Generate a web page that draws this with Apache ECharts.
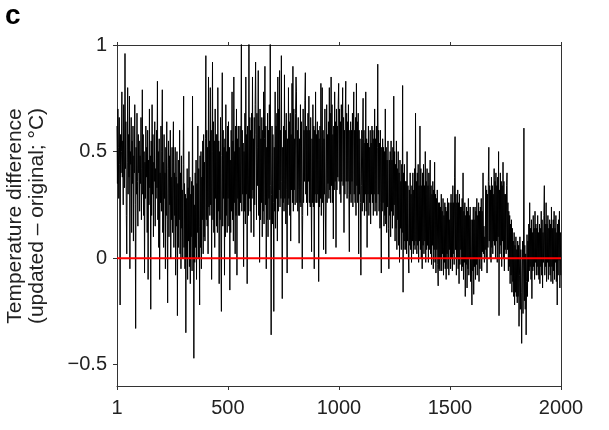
<!DOCTYPE html>
<html>
<head>
<meta charset="utf-8">
<script src="https://cdn.jsdelivr.net/npm/echarts@6/dist/echarts.min.js"></script>
<style>
html,body{margin:0;padding:0;background:#fff;}
#chart{width:609px;height:430px;}
</style>
</head>
<body>
<div id="chart"></div>
<script>
// Sampling grid of the hand-read series: one value every 2 years starting at year 1
const firstYear = 1;
const yearStep = 2;
// Temperature difference (updated - original; °C), 25 values per 50 years
const tempDiff = [
  0.62,0.35,0.70,0.52,0.28,0.66,0.44,-0.22,0.58,0.40,0.50,0.78,0.38,0.55,0.25,0.72,0.48,0.33,0.96,0.42,0.64,0.20,0.02,0.45,0.80,
  0.30,0.58,0.38,0.76,-0.05,0.50,0.44,0.66,0.12,0.55,0.35,0.62,0.08,0.48,0.40,0.72,0.25,-0.33,0.52,0.30,0.68,0.36,0.15,0.58,0.40,
  0.55,0.22,0.48,0.35,0.66,0.18,0.42,0.79,0.30,0.58,0.20,0.50,-0.07,0.45,0.28,0.62,0.38,0.52,0.12,0.60,-0.10,0.46,0.25,0.70,0.33,
  0.48,-0.24,0.55,0.20,0.72,0.30,0.58,0.10,0.45,0.36,0.64,0.15,0.42,0.28,0.60,0.33,0.83,0.18,0.50,0.05,0.56,-0.10,0.40,0.26,0.62,
  0.22,0.50,0.79,0.12,0.45,0.05,0.58,0.28,0.40,-0.05,0.52,0.20,0.64,0.18,-0.21,0.42,0.55,0.10,0.48,0.25,0.60,0.00,0.38,0.18,0.52,
  0.12,0.45,0.64,0.05,0.40,0.20,0.52,-0.08,0.38,0.15,0.50,-0.27,0.35,0.05,0.46,0.18,0.60,0.02,0.40,-0.05,0.48,0.14,0.32,0.00,0.44,
  0.76,0.05,0.35,-0.05,0.30,-0.35,0.28,0.00,0.42,-0.10,0.33,0.08,0.50,-0.04,0.38,-0.12,0.30,0.10,0.36,-0.06,0.76,0.00,0.34,-0.47,0.25,
  -0.02,0.40,0.05,0.46,-0.10,0.35,0.12,0.62,0.00,0.42,0.15,-0.22,0.48,0.05,0.50,-0.05,0.38,0.18,0.55,0.02,0.58,0.10,0.45,0.08,0.56,
  0.95,0.18,0.60,0.15,0.52,0.02,0.85,0.24,0.55,0.20,0.80,0.25,0.60,-0.10,0.50,0.92,0.18,0.64,0.12,0.55,0.05,0.70,0.28,0.58,0.15,
  0.58,0.12,0.80,0.22,0.55,-0.12,0.50,0.18,0.66,0.02,-0.25,0.48,0.87,0.15,0.60,0.28,0.52,-0.08,0.56,0.10,0.72,0.20,0.50,0.12,0.62,
  0.28,0.64,0.15,0.52,-0.15,0.46,0.12,0.60,0.22,0.78,0.18,0.55,0.08,0.85,0.26,0.50,0.02,0.62,0.20,0.70,-0.08,0.56,0.28,0.62,0.20,
  0.52,0.20,0.62,0.26,0.56,1.05,0.22,0.60,0.30,0.54,-0.04,0.50,0.22,0.68,0.16,0.85,0.30,0.58,-0.12,0.62,0.32,0.20,1.02,0.28,0.66,
  0.22,0.60,0.12,0.68,0.28,0.85,0.32,0.56,0.10,0.66,0.25,0.72,0.92,0.58,0.18,0.68,0.34,0.52,0.88,0.20,0.62,-0.02,0.70,0.18,0.56,
  0.26,0.66,0.10,0.60,0.22,0.78,0.16,0.56,0.90,0.25,0.62,-0.05,0.52,0.18,0.68,0.10,0.60,0.28,0.72,0.18,1.02,0.34,-0.36,0.30,0.62,
  0.16,0.58,0.26,-0.25,0.52,0.22,0.78,0.14,0.62,0.28,0.68,0.08,0.85,0.22,0.70,0.32,0.88,0.24,0.60,0.28,0.95,0.36,-0.19,0.52,0.26,
  0.62,0.22,0.86,0.28,0.60,0.16,0.68,0.32,-0.07,0.56,0.25,0.80,0.28,0.64,0.20,0.68,0.08,0.58,0.32,0.82,0.26,0.90,0.22,0.70,0.32,
  0.56,0.25,0.68,0.85,0.78,0.26,0.60,0.22,0.66,0.32,0.07,0.56,0.26,0.72,0.24,0.64,0.32,-0.05,0.20,0.70,0.26,0.60,0.36,0.74,0.87,
  0.30,0.62,0.26,0.60,0.20,0.68,0.36,0.76,0.26,0.60,0.24,0.66,0.32,0.03,0.56,0.26,0.72,0.24,0.62,-0.05,0.60,0.30,0.78,0.26,0.58,
  0.26,0.64,0.30,0.60,-0.11,0.56,0.24,0.62,0.28,0.82,0.20,0.60,0.80,0.26,0.60,0.04,0.56,0.30,0.70,0.24,0.02,0.30,0.72,0.26,0.58,
  0.35,0.64,0.28,0.80,0.32,0.68,0.26,0.85,0.34,0.72,0.26,0.58,0.09,0.62,0.32,0.78,0.36,0.64,0.05,0.70,0.32,0.62,0.38,0.72,0.82,
  0.36,0.70,0.30,0.64,0.26,0.72,0.36,0.62,0.80,0.34,0.66,0.12,0.60,0.30,0.70,0.83,0.36,0.68,0.28,0.64,0.36,0.72,0.30,0.03,0.60,
  0.30,0.64,0.26,0.60,0.36,0.68,0.24,0.62,0.78,0.30,0.60,0.26,0.66,0.20,0.82,0.34,0.64,0.26,0.68,0.02,0.60,0.30,0.56,0.26,-0.08,
  0.34,0.60,0.22,0.56,0.75,0.26,0.60,0.20,0.54,0.30,0.78,0.22,0.56,0.05,0.54,0.30,0.62,0.20,0.52,0.26,0.60,0.16,0.54,0.30,0.62,
  0.26,0.60,0.20,0.56,0.30,0.70,0.22,0.56,0.26,0.62,0.20,0.52,0.91,0.30,0.60,0.22,0.54,0.14,0.60,0.26,-0.07,0.52,0.22,0.56,0.26,
  0.52,0.15,0.50,0.20,0.70,0.16,0.52,0.12,0.46,0.24,0.55,0.14,-0.05,0.46,0.20,0.50,0.10,0.55,0.22,0.46,0.14,0.52,0.20,0.76,0.25,
  0.50,0.08,0.44,0.14,0.55,0.04,0.42,0.18,0.50,0.06,0.40,-0.02,0.46,0.14,0.36,0.04,0.44,0.12,0.81,-0.16,0.40,0.04,0.44,0.08,0.36,
  0.04,0.36,0.02,0.50,0.08,0.34,0.00,-0.07,0.32,0.06,0.40,0.04,0.30,-0.02,0.34,0.08,0.40,0.02,0.32,0.06,0.42,0.04,0.68,0.08,0.36,
  0.02,0.40,0.06,0.44,-0.02,0.34,0.08,0.62,0.04,0.42,0.00,0.34,-0.05,0.40,0.06,0.44,0.02,0.34,0.08,0.50,-0.02,0.36,0.04,0.42,0.06,
  0.34,-0.02,0.40,0.04,0.32,0.46,0.02,0.34,-0.03,0.30,0.06,0.36,-0.05,0.32,0.04,0.45,-0.02,0.30,-0.07,0.28,0.04,0.32,-0.03,-0.13,0.26,
  -0.05,0.26,-0.06,0.24,0.00,0.30,-0.06,0.22,0.02,0.28,-0.08,0.20,-0.02,0.26,-0.05,0.24,-0.10,0.22,0.02,0.28,-0.05,0.26,-0.08,0.18,0.04,
  0.26,-0.05,0.30,0.00,0.26,-0.06,0.34,0.02,0.26,-0.03,0.38,0.57,0.04,0.30,-0.08,0.26,0.00,0.32,-0.05,0.26,-0.12,0.30,-0.03,0.24,0.04,
  0.24,-0.06,0.28,-0.04,0.40,-0.10,0.22,-0.02,0.26,-0.18,0.20,-0.03,0.24,-0.14,0.22,-0.05,0.28,-0.08,0.20,0.00,0.24,-0.11,0.18,-0.06,-0.22,
  0.18,-0.06,0.24,-0.17,0.18,-0.04,0.24,-0.10,0.22,-0.03,0.28,-0.08,0.20,0.00,0.26,-0.11,0.22,-0.05,0.24,0.00,0.28,-0.06,0.22,0.03,0.40,
  0.02,0.15,-0.02,0.10,0.04,0.34,0.00,0.32,-0.07,0.30,0.05,0.36,0.52,0.08,0.34,0.00,0.32,-0.02,0.38,0.05,0.34,0.02,0.30,0.08,0.42,
  0.06,0.36,0.00,0.40,0.08,0.34,-0.02,0.38,0.10,0.50,-0.27,0.32,0.02,0.40,0.06,0.36,-0.04,0.34,0.08,0.45,0.00,0.36,-0.06,0.30,0.04,
  0.30,0.02,0.34,0.40,0.04,0.26,-0.06,0.22,-0.04,0.20,-0.12,0.16,-0.08,0.18,-0.16,0.14,-0.11,0.08,-0.18,0.12,-0.22,0.06,-0.16,0.10,-0.18,
  0.04,-0.21,0.08,-0.18,0.06,-0.32,-0.08,0.10,-0.24,0.04,-0.16,-0.40,-0.06,0.08,-0.26,0.01,0.61,-0.20,0.06,-0.24,0.02,-0.36,-0.11,0.11,-0.18,
  0.08,-0.11,0.16,-0.06,0.26,-0.04,0.14,-0.10,0.18,-0.19,0.12,-0.06,0.20,-0.04,0.14,-0.10,0.22,-0.02,0.16,-0.08,0.14,-0.04,0.20,-0.08,0.12,
  -0.10,0.16,-0.12,0.14,-0.04,0.22,-0.08,0.18,-0.14,0.12,-0.02,0.20,0.34,-0.08,0.16,-0.04,0.26,-0.11,0.16,-0.02,0.20,-0.10,0.14,-0.04,0.18,
  -0.08,0.16,-0.11,0.24,-0.04,0.14,-0.12,0.18,-0.06,0.22,-0.10,0.14,-0.02,0.20,-0.11,0.12,-0.22,0.16,-0.08,0.18,-0.01,0.22,-0.14,0.12,-0.08
];
const xTicks = [1, 500, 1000, 1500, 2000];
const yTicks = [-0.5, 0, 0.5, 1];
const zeroLine = [[1, 0], [2000, 0]];

const seriesData = tempDiff.map((v, i) => [firstYear + i * yearStep, v]);

const FONT = '"Liberation Sans", Arial, Helvetica, sans-serif';
const AX = '#333';

const chart = echarts.init(document.getElementById('chart'), null, {renderer: 'canvas'});
chart.setOption({
  animation: false,
  backgroundColor: '#fff',
  grid: {left: 117, right: 48, top: 45, bottom: 44, containLabel: false},
  xAxis: [{
    type: 'value', min: 1, max: 2000, position: 'bottom',
    axisLine: {show: true, onZero: false, lineStyle: {color: AX, width: 1}},
    axisTick: {show: true, inside: false, length: 4, customValues: xTicks, lineStyle: {color: AX}},
    axisLabel: {show: true, customValues: xTicks, margin: 12, color: '#222', fontSize: 20, fontFamily: FONT,
      formatter: v => String(v)},
    splitLine: {show: false}
  }, {
    type: 'value', min: 1, max: 2000, position: 'top',
    axisLine: {show: true, onZero: false, lineStyle: {color: AX, width: 1}},
    axisTick: {show: true, inside: false, length: 3, customValues: xTicks, lineStyle: {color: AX}},
    axisLabel: {show: false},
    splitLine: {show: false}
  }],
  yAxis: [{
    type: 'value', min: -0.6, max: 1, position: 'left',
    axisLine: {show: true, onZero: false, lineStyle: {color: AX, width: 1}},
    axisTick: {show: true, inside: false, length: 4, customValues: yTicks, lineStyle: {color: AX}},
    axisLabel: {show: true, customValues: yTicks, margin: 10, color: '#222', fontSize: 20, fontFamily: FONT,
      formatter: v => (v < 0 ? '\u2212' + String(-v) : String(v))},
    splitLine: {show: false}
  }, {
    type: 'value', min: -0.6, max: 1, position: 'right',
    axisLine: {show: true, onZero: false, lineStyle: {color: AX, width: 1}},
    axisTick: {show: false}, axisLabel: {show: false}, splitLine: {show: false}
  }],
  series: [{
    type: 'line', data: seriesData, xAxisIndex: 0, yAxisIndex: 0,
    showSymbol: false, symbol: 'none', sampling: null,
    lineStyle: {color: '#000', width: 1}, z: 2, silent: true
  }, {
    type: 'line', data: zeroLine, xAxisIndex: 0, yAxisIndex: 0,
    showSymbol: false, symbol: 'none',
    lineStyle: {color: '#ff0000', width: 2}, z: 3, silent: true
  }],
  graphic: [{
    type: 'text', left: 5, top: 2,
    style: {text: 'c', font: 'bold 28px ' + FONT, fill: '#000'}
  }, {
    type: 'text', x: 26, y: 216, rotation: Math.PI / 2,
    style: {text: 'Temperature difference\n(updated \u2013 original; \u00B0C)', font: '21px ' + FONT,
      fill: '#222', align: 'center', verticalAlign: 'middle', lineHeight: 22}
  }]
});
</script>
</body>
</html>
